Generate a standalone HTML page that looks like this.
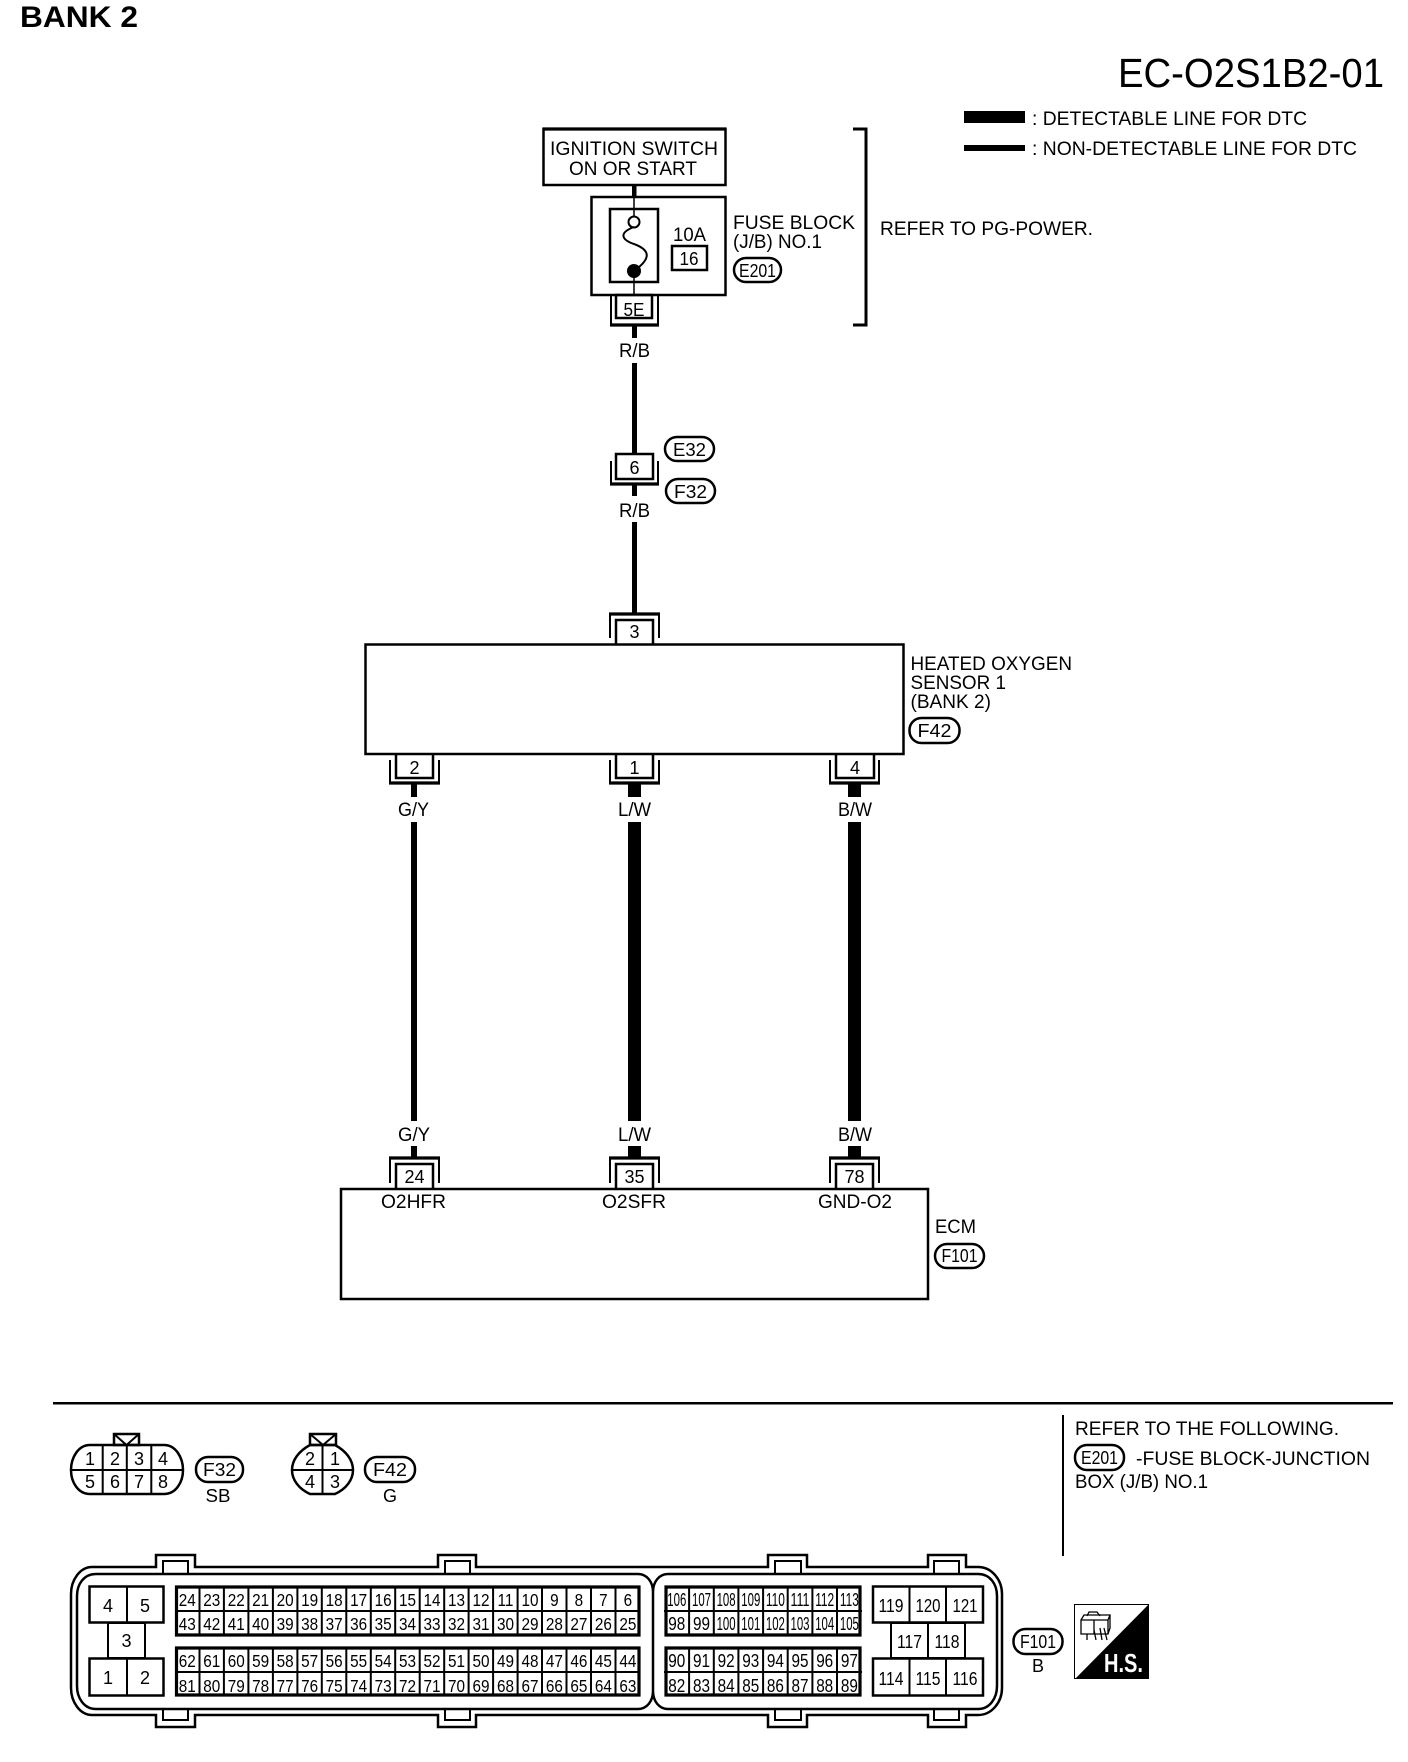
<!DOCTYPE html>
<html><head><meta charset="utf-8"><title>EC-O2S1B2-01</title>
<style>
html,body{margin:0;padding:0;background:#fff}
svg{display:block}
text{font-family:"Liberation Sans",Arial,sans-serif;fill:#000;font-size:19px}
.c{text-anchor:middle}
.n{text-anchor:middle;font-size:18px}
.s{fill:none;stroke:#000;stroke-width:2.5}
.w{fill:#fff;stroke:#000;stroke-width:2.5}
.l{fill:none;stroke:#000;stroke-width:2}
.b{fill:none;stroke:#000;stroke-width:3.2}
</style></head><body>
<svg width="1408" height="1762" viewBox="0 0 1408 1762" xmlns="http://www.w3.org/2000/svg">
<rect width="1408" height="1762" fill="#fff"/>
<text x="20" y="27" style="font-size:30px;font-weight:bold" textLength="118" lengthAdjust="spacingAndGlyphs">BANK 2</text>
<text x="1118" y="87" style="font-size:41px" textLength="266" lengthAdjust="spacingAndGlyphs">EC-O2S1B2-01</text>
<rect x="964" y="111" width="61" height="12"/><rect x="964" y="145" width="61" height="6"/>
<text x="1032" y="125" textLength="275" lengthAdjust="spacingAndGlyphs">: DETECTABLE LINE FOR DTC</text>
<text x="1032" y="155" textLength="325" lengthAdjust="spacingAndGlyphs">: NON-DETECTABLE LINE FOR DTC</text>

<!-- wires -->
<rect x="632" y="185" width="4.5" height="12"/>
<rect x="632" y="326" width="5" height="12"/><rect x="632" y="363" width="5" height="90"/>
<rect x="632" y="485" width="5" height="11"/><rect x="632" y="522" width="5" height="91"/>
<rect x="411" y="784" width="6" height="13"/><rect x="411" y="822" width="6" height="299"/><rect x="411" y="1146" width="6" height="11"/>
<rect x="628" y="784" width="13" height="13"/><rect x="628" y="822" width="13" height="299"/><rect x="628" y="1146" width="13" height="11"/>
<rect x="848" y="784" width="13" height="13"/><rect x="848" y="822" width="13" height="299"/><rect x="848" y="1146" width="13" height="11"/>

<!-- ignition -->
<rect class="s" x="543.5" y="129" width="182" height="56"/>
<path d="M542.500 129H726.500" class="b"/>
<text x="550" y="155" textLength="168" lengthAdjust="spacingAndGlyphs">IGNITION SWITCH</text>
<text x="569" y="175" textLength="128" lengthAdjust="spacingAndGlyphs">ON OR START</text>
<rect class="s" x="591.5" y="197" width="134" height="98"/>
<rect class="s" x="610" y="209" width="48" height="73"/>
<path d="M634 197V216M634 276V295" class="l" style="stroke-width:1.5"/>
<circle cx="634" cy="222" r="5.5" class="l" fill="#fff"/>
<circle cx="634" cy="271" r="7"/>
<path d="M634 227C618 233,622 240,634 244C650 250,652 258,634 271" class="l"/>
<text x="673" y="241" textLength="33" lengthAdjust="spacingAndGlyphs">10A</text>
<rect class="s" x="672" y="246" width="35" height="24"/>
<text class="n" x="689" y="265" textLength="19" lengthAdjust="spacingAndGlyphs">16</text>
<text x="733" y="229" textLength="122" lengthAdjust="spacingAndGlyphs">FUSE BLOCK</text>
<text x="733" y="248" textLength="89" lengthAdjust="spacingAndGlyphs">(J/B) NO.1</text>
<rect class="s" x="734" y="258" width="47" height="24" rx="12"/>
<text class="n" x="757.5" y="277" textLength="37" lengthAdjust="spacingAndGlyphs">E201</text>
<!-- 5E -->
<path class="l" d="M611 296V325H658V296"/><path class="b" d="M610 325H659"/>
<rect class="s" x="616" y="295" width="36" height="23"/>
<text class="n" x="634" y="316" textLength="21" lengthAdjust="spacingAndGlyphs">5E</text>
<text x="619" y="357" textLength="31" lengthAdjust="spacingAndGlyphs">R/B</text>
<!-- bracket -->
<path class="s" d="M853 129H866V325H853" style="stroke-width:3"/>
<text x="880" y="235" textLength="213" lengthAdjust="spacingAndGlyphs">REFER TO PG-POWER.</text>
<!-- 6 -->
<rect class="s" x="665" y="437" width="49" height="24" rx="12"/>
<text class="n" x="689.5" y="456" textLength="33" lengthAdjust="spacingAndGlyphs">E32</text>
<path class="l" d="M611 461V484H658V461"/><path class="b" d="M610 484H659"/>
<rect class="s" x="616" y="454" width="37" height="25" fill="#fff"/>
<text class="n" x="634.5" y="474">6</text>
<rect class="s" x="666" y="479" width="49" height="24" rx="12"/>
<text class="n" x="690.5" y="498" textLength="33" lengthAdjust="spacingAndGlyphs">F32</text>
<text x="619" y="517" textLength="31" lengthAdjust="spacingAndGlyphs">R/B</text>

<!-- sensor -->
<path class="l" d="M610 638V614H659V638"/><path class="b" d="M609 614H660"/>
<path class="s" d="M616 645V620H653V645"/>
<text class="n" x="634.5" y="638">3</text>
<rect class="s" x="365.5" y="644.5" width="538" height="109.500"/>
<text x="910.500" y="670" textLength="161.500" lengthAdjust="spacingAndGlyphs">HEATED OXYGEN</text>
<text x="910.500" y="689" textLength="95.500" lengthAdjust="spacingAndGlyphs">SENSOR 1</text>
<text x="910.500" y="708" textLength="80.500" lengthAdjust="spacingAndGlyphs">(BANK 2)</text>
<rect class="s" x="909.500" y="718" width="50" height="25" rx="12"/>
<text class="n" x="934.500" y="737" textLength="34" lengthAdjust="spacingAndGlyphs">F42</text>
<path class="l" d="M390 760V783H439V760M610 760V783H659V760M830 760V783H879V760"/>
<path class="b" d="M389 783H440M609 783H660M829 783H880"/>
<path class="s" d="M396 754V778H433V754M616 754V778H653V754M836 754V778H874V754"/>
<text class="n" x="414.5" y="774">2</text><text class="n" x="634.5" y="774">1</text><text class="n" x="855" y="774">4</text>
<text x="398" y="816" textLength="31" lengthAdjust="spacingAndGlyphs">G/Y</text>
<text x="618" y="816" textLength="33" lengthAdjust="spacingAndGlyphs">L/W</text>
<text x="838" y="816" textLength="34" lengthAdjust="spacingAndGlyphs">B/W</text>

<!-- ECM -->
<text x="398" y="1141" textLength="32" lengthAdjust="spacingAndGlyphs">G/Y</text>
<text x="618" y="1141" textLength="33" lengthAdjust="spacingAndGlyphs">L/W</text>
<text x="838" y="1141" textLength="34" lengthAdjust="spacingAndGlyphs">B/W</text>
<path class="l" d="M390 1183V1158H439V1183M610 1183V1158H659V1183M830 1183V1158H879V1183"/>
<path class="b" d="M389 1158H440M609 1158H660M829 1158H880"/>
<path class="s" d="M396 1188V1164H433V1188M616 1188V1164H653V1188M836 1188V1164H873V1188"/>
<text class="n" x="414.5" y="1183">24</text><text class="n" x="634.5" y="1183">35</text><text class="n" x="854.5" y="1183">78</text>
<rect class="s" x="341" y="1189" width="587" height="110"/>
<text x="381" y="1208" textLength="65" lengthAdjust="spacingAndGlyphs">O2HFR</text>
<text x="602" y="1208" textLength="64" lengthAdjust="spacingAndGlyphs">O2SFR</text>
<text x="818" y="1208" textLength="74" lengthAdjust="spacingAndGlyphs">GND-O2</text>
<text x="935" y="1233" textLength="41" lengthAdjust="spacingAndGlyphs">ECM</text>
<rect class="s" x="935" y="1244" width="49" height="24" rx="12"/>
<text class="n" x="959.5" y="1262" textLength="36" lengthAdjust="spacingAndGlyphs">F101</text>

<!-- separators -->
<rect x="53" y="1402" width="1340" height="2.5"/>
<rect x="1062" y="1415" width="2" height="141"/>
<text x="1075" y="1435" textLength="264" lengthAdjust="spacingAndGlyphs">REFER TO THE FOLLOWING.</text>
<rect class="s" x="1075" y="1445" width="49" height="25" rx="12"/>
<text class="n" x="1099.5" y="1464" textLength="37" lengthAdjust="spacingAndGlyphs">E201</text>
<text x="1136" y="1465" textLength="234" lengthAdjust="spacingAndGlyphs">-FUSE BLOCK-JUNCTION</text>
<text x="1075" y="1488" textLength="133" lengthAdjust="spacingAndGlyphs">BOX (J/B) NO.1</text>

<!-- F32 connector -->
<path class="s" d="M90 1445H164C176 1445,183 1458,183 1470C183 1482,176 1494,164 1494H90C78 1494,71 1482,71 1470C71 1458,78 1445,90 1445Z"/>
<path class="l" d="M71 1470H183M102.7 1445V1494M126.8 1445V1494M151.3 1445V1494"/>
<rect class="s" x="114" y="1434" width="25" height="11"/><path class="l" d="M114 1434L126.5 1445L139 1434"/>
<text class="n" x="90" y="1465">1</text><text class="n" x="115" y="1465">2</text><text class="n" x="139" y="1465">3</text><text class="n" x="163" y="1465">4</text>
<text class="n" x="90" y="1488">5</text><text class="n" x="115" y="1488">6</text><text class="n" x="139" y="1488">7</text><text class="n" x="163" y="1488">8</text>
<rect class="s" x="196" y="1457" width="47" height="25" rx="12"/>
<text class="n" x="219.5" y="1476" textLength="33" lengthAdjust="spacingAndGlyphs">F32</text>
<text class="n" x="218" y="1502" textLength="25" lengthAdjust="spacingAndGlyphs">SB</text>
<!-- F42 connector -->
<path class="s" d="M310 1445H335C346 1451,353 1460,353 1470C353 1480,346 1489,335 1494H310C299 1489,292 1480,292 1470C292 1460,299 1451,310 1445Z"/>
<path class="l" d="M292 1470H353M322.5 1445V1494"/>
<rect class="s" x="310" y="1434" width="26" height="11"/><path class="l" d="M310 1434L323 1445L336 1434"/>
<text class="n" x="310" y="1465">2</text><text class="n" x="335" y="1465">1</text><text class="n" x="310" y="1488">4</text><text class="n" x="335" y="1488">3</text>
<rect class="s" x="365" y="1457" width="50" height="25" rx="12"/>
<text class="n" x="390" y="1476" textLength="34" lengthAdjust="spacingAndGlyphs">F42</text>
<text class="n" x="390" y="1502">G</text>

<!-- ECM connector body -->
<path class="s" d="M92 1567H156V1555H195V1567H438V1555H476V1567H768V1555H807V1567H928V1555H966V1567H978C992 1567,1002 1580,1002 1594V1688C1002 1702,992 1715,978 1715H966V1727H928V1715H807V1727H768V1715H476V1727H438V1715H195V1727H156V1715H92C80 1715,71 1702,71 1688V1594C71 1580,80 1567,92 1567Z"/>
<path class="l" d="M163 1574V1561H188V1574M445 1574V1561H470V1574M775 1574V1561H801V1574M934 1574V1561H959V1574M163 1709V1720H188V1709M445 1709V1720H470V1709M775 1709V1720H801V1709M934 1709V1720H959V1709"/>
<path class="s" d="M96 1574H638C647 1574,653 1582,653 1592C653 1582,659 1574,668 1574H978C990 1574,997 1584,997 1596V1686C997 1698,990 1709,978 1709H668C659 1709,653 1701,653 1691C653 1701,647 1709,638 1709H96C84 1709,77 1698,77 1686V1596C77 1584,84 1574,96 1574ZM653 1592V1691"/>

<!-- left power blocks -->
<rect class="s" x="89.5" y="1586.5" width="74" height="36"/><path class="l" d="M127 1586V1623"/>
<rect class="s" x="108" y="1623" width="37" height="35" style="stroke-width:2"/>
<rect class="s" x="89.5" y="1658.5" width="74" height="37"/><path class="l" d="M127 1658V1696"/>
<text class="n" x="108" y="1612">4</text><text class="n" x="145" y="1612">5</text>
<text class="n" x="126.5" y="1647">3</text>
<text class="n" x="108" y="1684">1</text><text class="n" x="145" y="1684">2</text>

<!-- Grid A/B frames -->
<path class="b" d="M176.500 1587H639V1635H176.500ZM176.500 1648H639V1695H176.500Z"/>
<path class="l" d="M175 1611H640M175 1672H640M199.500 1586v50M223.900 1586v50M248.400 1586v50M272.900 1586v50M297.400 1586v50M321.800 1586v50M346.300 1586v50M370.800 1586v50M395.200 1586v50M419.700 1586v50M444.200 1586v50M468.600 1586v50M493.100 1586v50M517.600 1586v50M542 1586v50M566.500 1586v50M591 1586v50M615.500 1586v50M199.500 1647v49M223.900 1647v49M248.400 1647v49M272.900 1647v49M297.400 1647v49M321.800 1647v49M346.300 1647v49M370.800 1647v49M395.200 1647v49M419.700 1647v49M444.200 1647v49M468.600 1647v49M493.100 1647v49M517.600 1647v49M542 1647v49M566.500 1647v49M591 1647v49M615.500 1647v49"/>
<g transform="translate(175,0) scale(.85,1)">
<text class="n" x="14.4" y="1606">24</text><text class="n" x="43.2" y="1606">23</text><text class="n" x="72" y="1606">22</text><text class="n" x="100.8" y="1606">21</text><text class="n" x="129.6" y="1606">20</text><text class="n" x="158.4" y="1606">19</text><text class="n" x="187.2" y="1606">18</text><text class="n" x="216" y="1606">17</text><text class="n" x="244.8" y="1606">16</text><text class="n" x="273.6" y="1606">15</text><text class="n" x="302.4" y="1606">14</text><text class="n" x="331.2" y="1606">13</text><text class="n" x="360" y="1606">12</text><text class="n" x="388.8" y="1606">11</text><text class="n" x="417.6" y="1606">10</text><text class="n" x="446.4" y="1606">9</text><text class="n" x="475.2" y="1606">8</text><text class="n" x="504" y="1606">7</text><text class="n" x="532.8" y="1606">6</text>
<text class="n" x="14.4" y="1630">43</text><text class="n" x="43.2" y="1630">42</text><text class="n" x="72" y="1630">41</text><text class="n" x="100.8" y="1630">40</text><text class="n" x="129.6" y="1630">39</text><text class="n" x="158.4" y="1630">38</text><text class="n" x="187.2" y="1630">37</text><text class="n" x="216" y="1630">36</text><text class="n" x="244.8" y="1630">35</text><text class="n" x="273.6" y="1630">34</text><text class="n" x="302.4" y="1630">33</text><text class="n" x="331.2" y="1630">32</text><text class="n" x="360" y="1630">31</text><text class="n" x="388.8" y="1630">30</text><text class="n" x="417.6" y="1630">29</text><text class="n" x="446.4" y="1630">28</text><text class="n" x="475.2" y="1630">27</text><text class="n" x="504" y="1630">26</text><text class="n" x="532.8" y="1630">25</text>
<text class="n" x="14.4" y="1667">62</text><text class="n" x="43.2" y="1667">61</text><text class="n" x="72" y="1667">60</text><text class="n" x="100.8" y="1667">59</text><text class="n" x="129.6" y="1667">58</text><text class="n" x="158.4" y="1667">57</text><text class="n" x="187.2" y="1667">56</text><text class="n" x="216" y="1667">55</text><text class="n" x="244.8" y="1667">54</text><text class="n" x="273.6" y="1667">53</text><text class="n" x="302.4" y="1667">52</text><text class="n" x="331.2" y="1667">51</text><text class="n" x="360" y="1667">50</text><text class="n" x="388.8" y="1667">49</text><text class="n" x="417.6" y="1667">48</text><text class="n" x="446.4" y="1667">47</text><text class="n" x="475.2" y="1667">46</text><text class="n" x="504" y="1667">45</text><text class="n" x="532.8" y="1667">44</text>
<text class="n" x="14.4" y="1692">81</text><text class="n" x="43.2" y="1692">80</text><text class="n" x="72" y="1692">79</text><text class="n" x="100.8" y="1692">78</text><text class="n" x="129.6" y="1692">77</text><text class="n" x="158.4" y="1692">76</text><text class="n" x="187.2" y="1692">75</text><text class="n" x="216" y="1692">74</text><text class="n" x="244.8" y="1692">73</text><text class="n" x="273.6" y="1692">72</text><text class="n" x="302.4" y="1692">71</text><text class="n" x="331.2" y="1692">70</text><text class="n" x="360" y="1692">69</text><text class="n" x="388.8" y="1692">68</text><text class="n" x="417.6" y="1692">67</text><text class="n" x="446.4" y="1692">66</text><text class="n" x="475.2" y="1692">65</text><text class="n" x="504" y="1692">64</text><text class="n" x="532.8" y="1692">63</text>
</g>

<!-- Grid C -->
<path class="b" d="M666 1587H860V1635H666ZM666 1648H860V1695H666Z"/>
<path class="l" d="M664 1611H862M664 1672H862M689.100 1586v50M713.800 1586v50M738.400 1586v50M763.100 1586v50M787.700 1586v50M812.400 1586v50M837 1586v50M689.100 1647v49M713.800 1647v49M738.400 1647v49M763.100 1647v49M787.700 1647v49M812.400 1647v49M837 1647v49"/>
<text class="n" x="676.800" y="1606" textLength="19" lengthAdjust="spacingAndGlyphs">106</text><text class="n" x="701.500" y="1606" textLength="19" lengthAdjust="spacingAndGlyphs">107</text><text class="n" x="726.100" y="1606" textLength="19" lengthAdjust="spacingAndGlyphs">108</text><text class="n" x="750.800" y="1606" textLength="19" lengthAdjust="spacingAndGlyphs">109</text><text class="n" x="775.400" y="1606" textLength="19" lengthAdjust="spacingAndGlyphs">110</text><text class="n" x="800" y="1606" textLength="19" lengthAdjust="spacingAndGlyphs">111</text><text class="n" x="824.700" y="1606" textLength="19" lengthAdjust="spacingAndGlyphs">112</text><text class="n" x="849.400" y="1606" textLength="19" lengthAdjust="spacingAndGlyphs">113</text>
<text class="n" x="676.800" y="1630" textLength="17" lengthAdjust="spacingAndGlyphs">98</text><text class="n" x="701.500" y="1630" textLength="17" lengthAdjust="spacingAndGlyphs">99</text><text class="n" x="726.100" y="1630" textLength="19" lengthAdjust="spacingAndGlyphs">100</text><text class="n" x="750.800" y="1630" textLength="19" lengthAdjust="spacingAndGlyphs">101</text><text class="n" x="775.400" y="1630" textLength="19" lengthAdjust="spacingAndGlyphs">102</text><text class="n" x="800" y="1630" textLength="19" lengthAdjust="spacingAndGlyphs">103</text><text class="n" x="824.700" y="1630" textLength="19" lengthAdjust="spacingAndGlyphs">104</text><text class="n" x="849.400" y="1630" textLength="19" lengthAdjust="spacingAndGlyphs">105</text>
<text class="n" x="676.800" y="1667" textLength="17" lengthAdjust="spacingAndGlyphs">90</text><text class="n" x="701.500" y="1667" textLength="17" lengthAdjust="spacingAndGlyphs">91</text><text class="n" x="726.100" y="1667" textLength="17" lengthAdjust="spacingAndGlyphs">92</text><text class="n" x="750.800" y="1667" textLength="17" lengthAdjust="spacingAndGlyphs">93</text><text class="n" x="775.400" y="1667" textLength="17" lengthAdjust="spacingAndGlyphs">94</text><text class="n" x="800" y="1667" textLength="17" lengthAdjust="spacingAndGlyphs">95</text><text class="n" x="824.700" y="1667" textLength="17" lengthAdjust="spacingAndGlyphs">96</text><text class="n" x="849.400" y="1667" textLength="17" lengthAdjust="spacingAndGlyphs">97</text>
<text class="n" x="676.800" y="1692" textLength="17" lengthAdjust="spacingAndGlyphs">82</text><text class="n" x="701.500" y="1692" textLength="17" lengthAdjust="spacingAndGlyphs">83</text><text class="n" x="726.100" y="1692" textLength="17" lengthAdjust="spacingAndGlyphs">84</text><text class="n" x="750.800" y="1692" textLength="17" lengthAdjust="spacingAndGlyphs">85</text><text class="n" x="775.400" y="1692" textLength="17" lengthAdjust="spacingAndGlyphs">86</text><text class="n" x="800" y="1692" textLength="17" lengthAdjust="spacingAndGlyphs">87</text><text class="n" x="824.700" y="1692" textLength="17" lengthAdjust="spacingAndGlyphs">88</text><text class="n" x="849.400" y="1692" textLength="17" lengthAdjust="spacingAndGlyphs">89</text>

<!-- right blocks -->
<rect class="s" x="873" y="1586.500" width="110" height="36"/><path class="l" d="M909.500 1586V1623M946 1586V1623"/>
<rect class="s" x="891" y="1623" width="74" height="35" style="stroke-width:2"/><path class="l" d="M928 1623V1658"/>
<rect class="s" x="873" y="1658.500" width="110" height="37"/><path class="l" d="M909.500 1658V1696M946 1658V1696"/>
<text class="n" x="891" y="1612" textLength="25" lengthAdjust="spacingAndGlyphs">119</text><text class="n" x="928" y="1612" textLength="25" lengthAdjust="spacingAndGlyphs">120</text><text class="n" x="965" y="1612" textLength="25" lengthAdjust="spacingAndGlyphs">121</text>
<text class="n" x="909.500" y="1648" textLength="25" lengthAdjust="spacingAndGlyphs">117</text><text class="n" x="947" y="1648" textLength="25" lengthAdjust="spacingAndGlyphs">118</text>
<text class="n" x="891" y="1685" textLength="25" lengthAdjust="spacingAndGlyphs">114</text><text class="n" x="928" y="1685" textLength="25" lengthAdjust="spacingAndGlyphs">115</text><text class="n" x="965" y="1685" textLength="25" lengthAdjust="spacingAndGlyphs">116</text>

<rect class="s" x="1013.500" y="1629" width="49" height="25" rx="12"/>
<text class="n" x="1038" y="1648" textLength="36" lengthAdjust="spacingAndGlyphs">F101</text>
<text class="n" x="1038" y="1672">B</text>

<!-- H.S. icon -->
<rect x="1074.500" y="1604.500" width="74" height="74" fill="none" stroke="#000" stroke-width="1"/>
<path d="M1149 1604V1679H1075Z"/>
<text x="1104" y="1672" style="fill:#fff;font-size:26px;font-weight:bold" textLength="39" lengthAdjust="spacingAndGlyphs">H.S.</text>
<path d="M1081 1620H1108V1634H1081ZM1094 1620V1634M1081 1620L1084 1615H1110L1108 1620M1087 1616L1089 1612H1097L1100 1616M1110 1615V1628L1108 1634M1087 1634V1640M1094 1630L1096 1640M1100 1628L1102 1640M1104 1628L1107 1640" fill="none" stroke="#000" stroke-width="1.3"/>
</svg>
</body></html>
